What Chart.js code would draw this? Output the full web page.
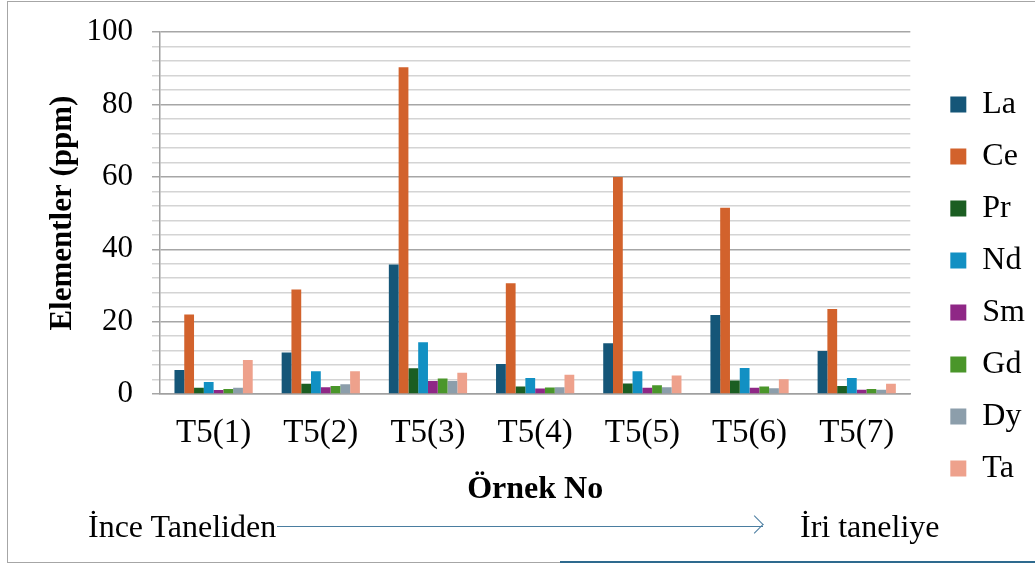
<!DOCTYPE html>
<html>
<head>
<meta charset="utf-8">
<script src="https://cdn.jsdelivr.net/npm/chart.js@4"></script>
<style>
  body { margin: 0; background: #fff; }
  #wrap { position: relative; width: 1035px; height: 565px; overflow: hidden; font-family: "Liberation Serif", "Times New Roman", serif; }
  #frame { position: absolute; left: 7px; top: 1px; width: 1040px; height: 560px; border: 1.5px solid #a6a6a6; }
  .note { position: absolute; top: 509px; font-size: 32px; line-height: 1.1; color: #000; }
  #arrow { position: absolute; left: 277px; top: 526px; width: 486px; height: 0; border-top: 1.5px solid #4a7da0; }
  #head { position: absolute; left: 748px; top: 518px; width: 12px; height: 12px; border-top: 1.5px solid #4a7da0; border-right: 1.5px solid #4a7da0; transform: rotate(45deg); }
  #blue { position: absolute; left: 560px; top: 561px; width: 480px; height: 0; border-top: 2px solid #2e6a8e; }
  canvas { position: absolute; left: 0; top: 0; }
</style>
</head>
<body>
<div id="wrap">
  <div id="frame"></div>
  <canvas id="chart" width="1035" height="565"></canvas>
  <div class="note" style="left:88px">İnce Taneliden</div>
  <div id="arrow"></div>
  <div id="head"></div>
  <div class="note" style="left:800px">İri taneliye</div>
  <div id="blue"></div>
</div>
<script>
// örnekler
let samples = ["T5(1)", "T5(2)", "T5(3)", "T5(4)", "T5(5)", "T5(6)", "T5(7)"];

let La = [6.6, 11.5, 35.8, 8.3, 14.0, 21.8, 11.9];
let Ce = [22.0, 28.9, 90.3, 30.6, 60.0, 51.5, 23.5];
let Pr = [1.7, 2.8, 7.1, 2.1, 2.9, 3.7, 2.2];
let Nd = [3.3, 6.3, 14.3, 4.4, 6.3, 7.2, 4.4];
let Sm = [1.1, 1.9, 3.6, 1.5, 1.7, 1.7, 1.2];
let Gd = [1.4, 2.2, 4.3, 1.8, 2.4, 2.1, 1.4];
let Dy = [1.7, 2.7, 3.6, 1.9, 1.9, 1.6, 1.2];
let Ta = [9.4, 6.3, 5.9, 5.3, 5.1, 4.1, 2.8];

let yTicks = [0, 20, 40, 60, 80, 100];

let series = [
    ["La", La, "#155678"],
    ["Ce", Ce, "#d2622c"],
    ["Pr", Pr, "#1b5e22"],
    ["Nd", Nd, "#1290c3"],
    ["Sm", Sm, "#8f2786"],
    ["Gd", Gd, "#4a962a"],
    ["Dy", Dy, "#8c9eab"],
    ["Ta", Ta, "#eea18c"]
];

let serif = "'Liberation Serif', 'Times New Roman', serif";

new Chart(document.getElementById("chart").getContext("2d"), {
    type: "bar",
    data: {
        labels: samples,
        datasets: series.map(s => ({
            label: s[0],
            data: s[1],
            backgroundColor: s[2],
            borderWidth: 0,
            categoryPercentage: 0.73,
            barPercentage: 1.0
        }))
    },
    options: {
        responsive: false,
        animation: false,
        layout: { padding: { top: 8, left: 40, right: 0, bottom: 0 } },
        plugins: {
            tooltip: { enabled: false },
            legend: {
                position: "right",
                labels: {
                    boxWidth: 16,
                    boxHeight: 16,
                    padding: 20,
                    color: "#000",
                    font: { family: serif, size: 32 }
                }
            }
        },
        scales: {
            x: {
                grid: { display: false },
                border: { display: true, color: "#a0a0a0", width: 1.5 },
                ticks: { color: "#000", padding: 12, font: { family: serif, size: 33 } },
                title: {
                    display: true,
                    text: "Örnek No",
                    color: "#000",
                    padding: { top: 5, bottom: 56 },
                    font: { family: serif, size: 32, weight: "bold" }
                }
            },
            y: {
                min: 0,
                max: 100,
                afterFit: s => { s.width = 120; },
                border: { display: true, color: "#a0a0a0", width: 1.5 },
                grid: {
                    tickLength: 8,
                    color: c => yTicks.includes(c.tick.value) ? "#a6a6a6" : "#d4d4d4",
                    lineWidth: 1.5
                },
                ticks: {
                    stepSize: 4,
                    autoSkip: false,
                    padding: 19,
                    color: "#000",
                    font: { family: serif, size: 31, lineHeight: 0.85 },
                    callback: v => yTicks.includes(v) ? v : ""
                },
                title: {
                    display: true,
                    text: "Elementler (ppm)",
                    color: "#000",
                    padding: { top: 4, bottom: 0 },
                    font: { family: serif, size: 31, weight: "bold" }
                }
            },
            // boş sağ eksen, grafik ile lejant arasında boşluk için
            gap: {
                position: "right",
                display: true,
                afterFit: s => { s.width = 20; },
                grid: { display: false },
                border: { display: false },
                ticks: { display: false }
            }
        }
    }
});
</script>
</body>
</html>
